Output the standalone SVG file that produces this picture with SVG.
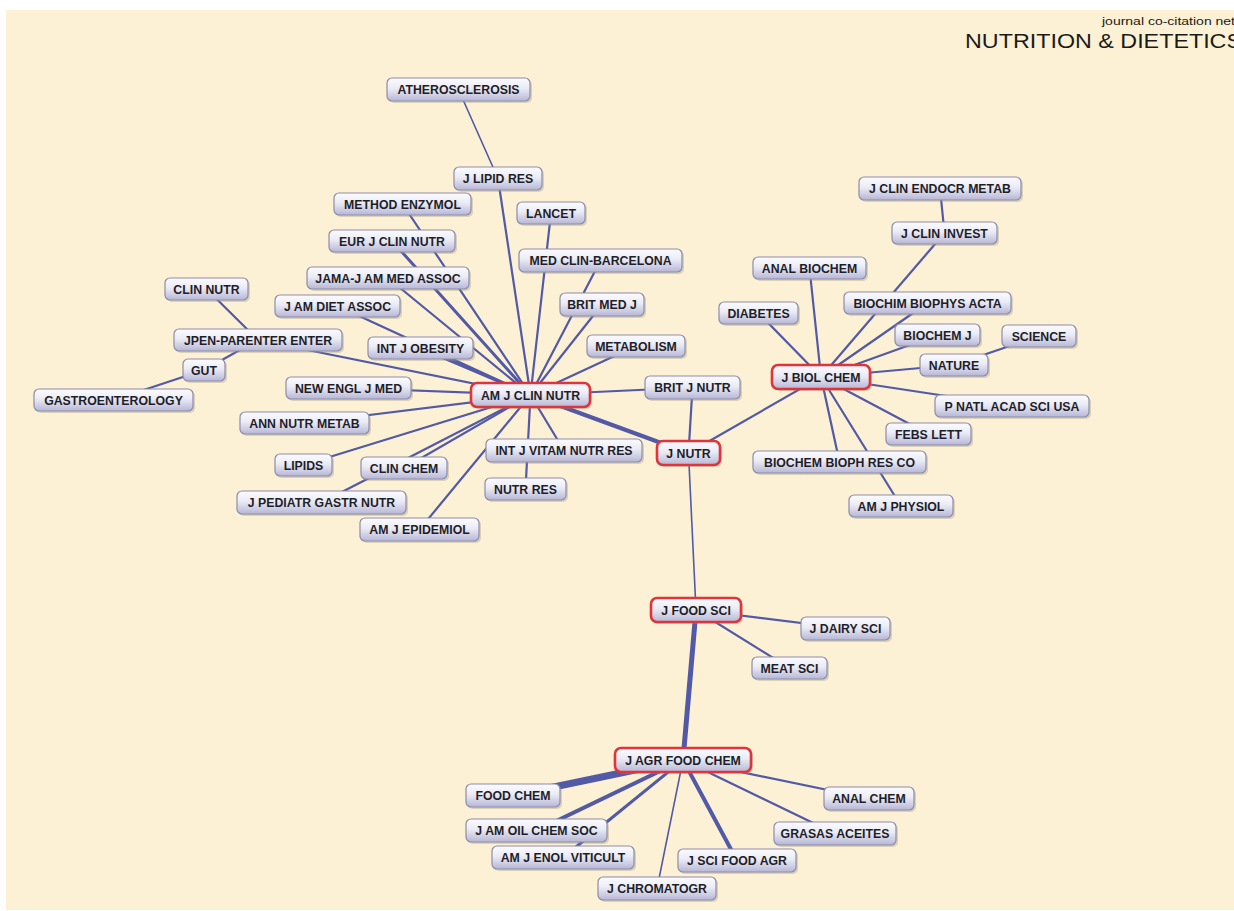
<svg xmlns="http://www.w3.org/2000/svg" width="1234" height="911" viewBox="0 0 1234 911">
<defs>
<linearGradient id="nodeFill" x1="0" y1="0" x2="0" y2="1">
<stop offset="0" stop-color="#fbfbfe"/>
<stop offset="0.45" stop-color="#ebebf5"/>
<stop offset="1" stop-color="#b6b6d6"/>
</linearGradient>
<style>
.n rect.b{fill:url(#nodeFill);stroke:#8c8cab;stroke-width:1.2}
.n rect.s{fill:#9b9480;opacity:0.35}
.r rect.b{stroke:#e0343c;stroke-width:2.6}
.n text{font-family:"Liberation Sans",Arial,sans-serif;font-weight:bold;font-size:12.3px;fill:#1e1e28;text-anchor:middle}
#edges line{stroke:#5259a6;stroke-linecap:round}
.t1{stroke-width:1.6}
.t2{stroke-width:2.2}
.t3{stroke-width:3}
.t4{stroke-width:4}
.t5{stroke-width:5}
.t7{stroke-width:7}
.title{font-family:"Liberation Sans",Arial,sans-serif;fill:#1a1a1a}
</style>
</defs>
<rect x="0" y="0" width="1234" height="911" fill="#ffffff"/>
<rect x="6" y="10" width="1228" height="900" fill="#fcf1d4"/>
<text class="title" x="1102" y="25" font-size="11.5" textLength="133" lengthAdjust="spacingAndGlyphs">journal co-citation net</text>
<text class="title" x="965" y="47.5" font-size="20" textLength="277" lengthAdjust="spacingAndGlyphs">NUTRITION &amp; DIETETICS</text>
<g id="edges">
<line class="t1" x1="458.5" y1="89.5" x2="498" y2="178.5"/>
<line class="t2" x1="498" y1="178.5" x2="530.5" y2="395"/>
<line class="t2" x1="402.5" y1="204" x2="530.5" y2="395"/>
<line class="t2" x1="551" y1="213" x2="530.5" y2="395"/>
<line class="t3" x1="392" y1="241" x2="530.5" y2="395"/>
<line class="t2" x1="600.5" y1="260.5" x2="530.5" y2="395"/>
<line class="t2" x1="388" y1="278" x2="530.5" y2="395"/>
<line class="t2" x1="337.5" y1="306" x2="530.5" y2="395"/>
<line class="t2" x1="602" y1="304.5" x2="530.5" y2="395"/>
<line class="t2" x1="258" y1="340" x2="530.5" y2="395"/>
<line class="t3" x1="420.5" y1="348" x2="530.5" y2="395"/>
<line class="t2" x1="636" y1="346" x2="530.5" y2="395"/>
<line class="t2" x1="348.5" y1="388" x2="530.5" y2="395"/>
<line class="t2" x1="692.5" y1="387.5" x2="530.5" y2="395"/>
<line class="t2" x1="304.5" y1="423" x2="530.5" y2="395"/>
<line class="t2" x1="303.5" y1="465" x2="530.5" y2="395"/>
<line class="t2" x1="404" y1="468" x2="530.5" y2="395"/>
<line class="t2" x1="321.5" y1="502.5" x2="530.5" y2="395"/>
<line class="t2" x1="419.5" y1="529.5" x2="530.5" y2="395"/>
<line class="t2" x1="564" y1="450.5" x2="530.5" y2="395"/>
<line class="t2" x1="525.5" y1="489" x2="530.5" y2="395"/>
<line class="t4" x1="530.5" y1="395" x2="688.5" y2="453"/>
<line class="t2" x1="206.5" y1="289" x2="258" y2="340"/>
<line class="t2" x1="204" y1="370" x2="258" y2="340"/>
<line class="t2" x1="113.5" y1="400" x2="204" y2="370"/>
<line class="t2" x1="940" y1="188.5" x2="944.5" y2="233"/>
<line class="t2" x1="944.5" y1="233" x2="821" y2="377"/>
<line class="t2" x1="809.5" y1="268" x2="821" y2="377"/>
<line class="t2" x1="927.5" y1="303" x2="821" y2="377"/>
<line class="t2" x1="758.5" y1="313" x2="821" y2="377"/>
<line class="t2" x1="937.5" y1="335" x2="821" y2="377"/>
<line class="t2" x1="1039" y1="336" x2="954" y2="365"/>
<line class="t2" x1="954" y1="365" x2="821" y2="377"/>
<line class="t2" x1="1012" y1="406" x2="821" y2="377"/>
<line class="t2" x1="928.5" y1="434" x2="821" y2="377"/>
<line class="t2" x1="839.5" y1="462" x2="821" y2="377"/>
<line class="t2" x1="901" y1="506" x2="821" y2="377"/>
<line class="t2" x1="688.5" y1="453" x2="821" y2="377"/>
<line class="t2" x1="692.5" y1="387.5" x2="688.5" y2="453"/>
<line class="t1" x1="688.5" y1="453" x2="696" y2="610"/>
<line class="t2" x1="696" y1="610" x2="845.5" y2="628.5"/>
<line class="t2" x1="696" y1="610" x2="789.5" y2="668"/>
<line class="t5" x1="696" y1="610" x2="683" y2="760"/>
<line class="t7" x1="683" y1="760" x2="513" y2="795.5"/>
<line class="t4" x1="683" y1="760" x2="536.5" y2="830.5"/>
<line class="t3" x1="683" y1="760" x2="563" y2="857.5"/>
<line class="t1" x1="683" y1="760" x2="657" y2="888.5"/>
<line class="t4" x1="683" y1="760" x2="737" y2="860.5"/>
<line class="t2" x1="683" y1="760" x2="835" y2="833.5"/>
<line class="t2" x1="683" y1="760" x2="869" y2="798.5"/>
</g>
<g id="n-atherosclerosis" class="n"><rect class="s" x="389" y="80" width="143" height="23" rx="5"/><rect class="b" x="387" y="78" width="143" height="23" rx="5"/><text x="458.5" y="94">ATHEROSCLEROSIS</text></g>
<g id="n-j-lipid-res" class="n"><rect class="s" x="456" y="169" width="88" height="23" rx="5"/><rect class="b" x="454" y="167" width="88" height="23" rx="5"/><text x="498" y="183">J LIPID RES</text></g>
<g id="n-method-enzymol" class="n"><rect class="s" x="336" y="195" width="137" height="22" rx="5"/><rect class="b" x="334" y="193" width="137" height="22" rx="5"/><text x="402.5" y="208.5">METHOD ENZYMOL</text></g>
<g id="n-lancet" class="n"><rect class="s" x="519" y="204" width="68" height="22" rx="5"/><rect class="b" x="517" y="202" width="68" height="22" rx="5"/><text x="551" y="217.5">LANCET</text></g>
<g id="n-eur-j-clin-nutr" class="n"><rect class="s" x="331" y="232" width="126" height="22" rx="5"/><rect class="b" x="329" y="230" width="126" height="22" rx="5"/><text x="392" y="245.5">EUR J CLIN NUTR</text></g>
<g id="n-med-clin-barcelona" class="n"><rect class="s" x="521" y="251" width="163" height="23" rx="5"/><rect class="b" x="519" y="249" width="163" height="23" rx="5"/><text x="600.5" y="265">MED CLIN-BARCELONA</text></g>
<g id="n-jama" class="n"><rect class="s" x="309" y="269" width="162" height="22" rx="5"/><rect class="b" x="307" y="267" width="162" height="22" rx="5"/><text x="388" y="282.5">JAMA-J AM MED ASSOC</text></g>
<g id="n-j-am-diet-assoc" class="n"><rect class="s" x="277" y="297" width="125" height="22" rx="5"/><rect class="b" x="275" y="295" width="125" height="22" rx="5"/><text x="337.5" y="310.5">J AM DIET ASSOC</text></g>
<g id="n-brit-med-j" class="n"><rect class="s" x="562" y="295" width="84" height="23" rx="5"/><rect class="b" x="560" y="293" width="84" height="23" rx="5"/><text x="602" y="309">BRIT MED J</text></g>
<g id="n-clin-nutr" class="n"><rect class="s" x="167" y="280" width="83" height="22" rx="5"/><rect class="b" x="165" y="278" width="83" height="22" rx="5"/><text x="206.5" y="293.5">CLIN NUTR</text></g>
<g id="n-jpen" class="n"><rect class="s" x="176" y="331" width="168" height="22" rx="5"/><rect class="b" x="174" y="329" width="168" height="22" rx="5"/><text x="258" y="344.5">JPEN-PARENTER ENTER</text></g>
<g id="n-int-j-obesity" class="n"><rect class="s" x="370" y="339" width="105" height="22" rx="5"/><rect class="b" x="368" y="337" width="105" height="22" rx="5"/><text x="420.5" y="352.5">INT J OBESITY</text></g>
<g id="n-metabolism" class="n"><rect class="s" x="589" y="337" width="98" height="22" rx="5"/><rect class="b" x="587" y="335" width="98" height="22" rx="5"/><text x="636" y="350.5">METABOLISM</text></g>
<g id="n-gut" class="n"><rect class="s" x="185" y="361" width="42" height="22" rx="5"/><rect class="b" x="183" y="359" width="42" height="22" rx="5"/><text x="204" y="374.5">GUT</text></g>
<g id="n-gastroenterology" class="n"><rect class="s" x="36" y="391" width="159" height="22" rx="5"/><rect class="b" x="34" y="389" width="159" height="22" rx="5"/><text x="113.5" y="404.5">GASTROENTEROLOGY</text></g>
<g id="n-new-engl-j-med" class="n"><rect class="s" x="288" y="379" width="125" height="22" rx="5"/><rect class="b" x="286" y="377" width="125" height="22" rx="5"/><text x="348.5" y="392.5">NEW ENGL J MED</text></g>
<g id="n-am-j-clin-nutr" class="n r"><rect class="s" x="473" y="385" width="119" height="24" rx="6"/><rect class="b" x="471" y="383" width="119" height="24" rx="6"/><text x="530.5" y="399.5">AM J CLIN NUTR</text></g>
<g id="n-brit-j-nutr" class="n"><rect class="s" x="647" y="378" width="95" height="23" rx="5"/><rect class="b" x="645" y="376" width="95" height="23" rx="5"/><text x="692.5" y="392">BRIT J NUTR</text></g>
<g id="n-ann-nutr-metab" class="n"><rect class="s" x="242" y="414" width="129" height="22" rx="5"/><rect class="b" x="240" y="412" width="129" height="22" rx="5"/><text x="304.5" y="427.5">ANN NUTR METAB</text></g>
<g id="n-j-nutr" class="n r"><rect class="s" x="659" y="443" width="63" height="24" rx="6"/><rect class="b" x="657" y="441" width="63" height="24" rx="6"/><text x="688.5" y="457.5">J NUTR</text></g>
<g id="n-int-j-vitam-nutr-res" class="n"><rect class="s" x="488" y="441" width="156" height="23" rx="5"/><rect class="b" x="486" y="439" width="156" height="23" rx="5"/><text x="564" y="455">INT J VITAM NUTR RES</text></g>
<g id="n-lipids" class="n"><rect class="s" x="277" y="456" width="57" height="22" rx="5"/><rect class="b" x="275" y="454" width="57" height="22" rx="5"/><text x="303.5" y="469.5">LIPIDS</text></g>
<g id="n-clin-chem" class="n"><rect class="s" x="363" y="459" width="86" height="22" rx="5"/><rect class="b" x="361" y="457" width="86" height="22" rx="5"/><text x="404" y="472.5">CLIN CHEM</text></g>
<g id="n-nutr-res" class="n"><rect class="s" x="487" y="480" width="81" height="22" rx="5"/><rect class="b" x="485" y="478" width="81" height="22" rx="5"/><text x="525.5" y="493.5">NUTR RES</text></g>
<g id="n-j-pediatr-gastr-nutr" class="n"><rect class="s" x="239" y="493" width="169" height="23" rx="5"/><rect class="b" x="237" y="491" width="169" height="23" rx="5"/><text x="321.5" y="507">J PEDIATR GASTR NUTR</text></g>
<g id="n-am-j-epidemiol" class="n"><rect class="s" x="362" y="520" width="119" height="23" rx="5"/><rect class="b" x="360" y="518" width="119" height="23" rx="5"/><text x="419.5" y="534">AM J EPIDEMIOL</text></g>
<g id="n-j-clin-endocr-metab" class="n"><rect class="s" x="861" y="179" width="162" height="23" rx="5"/><rect class="b" x="859" y="177" width="162" height="23" rx="5"/><text x="940" y="193">J CLIN ENDOCR METAB</text></g>
<g id="n-j-clin-invest" class="n"><rect class="s" x="894" y="224" width="105" height="22" rx="5"/><rect class="b" x="892" y="222" width="105" height="22" rx="5"/><text x="944.5" y="237.5">J CLIN INVEST</text></g>
<g id="n-anal-biochem" class="n"><rect class="s" x="755" y="259" width="113" height="22" rx="5"/><rect class="b" x="753" y="257" width="113" height="22" rx="5"/><text x="809.5" y="272.5">ANAL BIOCHEM</text></g>
<g id="n-biochim-biophys-acta" class="n"><rect class="s" x="846" y="294" width="167" height="22" rx="5"/><rect class="b" x="844" y="292" width="167" height="22" rx="5"/><text x="927.5" y="307.5">BIOCHIM BIOPHYS ACTA</text></g>
<g id="n-diabetes" class="n"><rect class="s" x="721" y="304" width="79" height="22" rx="5"/><rect class="b" x="719" y="302" width="79" height="22" rx="5"/><text x="758.5" y="317.5">DIABETES</text></g>
<g id="n-biochem-j" class="n"><rect class="s" x="897" y="326" width="85" height="22" rx="5"/><rect class="b" x="895" y="324" width="85" height="22" rx="5"/><text x="937.5" y="339.5">BIOCHEM J</text></g>
<g id="n-science" class="n"><rect class="s" x="1004" y="327" width="74" height="22" rx="5"/><rect class="b" x="1002" y="325" width="74" height="22" rx="5"/><text x="1039" y="340.5">SCIENCE</text></g>
<g id="n-nature" class="n"><rect class="s" x="922" y="356" width="68" height="22" rx="5"/><rect class="b" x="920" y="354" width="68" height="22" rx="5"/><text x="954" y="369.5">NATURE</text></g>
<g id="n-j-biol-chem" class="n r"><rect class="s" x="774" y="367" width="98" height="24" rx="6"/><rect class="b" x="772" y="365" width="98" height="24" rx="6"/><text x="821" y="381.5">J BIOL CHEM</text></g>
<g id="n-p-natl-acad-sci-usa" class="n"><rect class="s" x="937" y="397" width="154" height="22" rx="5"/><rect class="b" x="935" y="395" width="154" height="22" rx="5"/><text x="1012" y="410.5">P NATL ACAD SCI USA</text></g>
<g id="n-febs-lett" class="n"><rect class="s" x="888" y="425" width="85" height="22" rx="5"/><rect class="b" x="886" y="423" width="85" height="22" rx="5"/><text x="928.5" y="438.5">FEBS LETT</text></g>
<g id="n-biochem-bioph-res-co" class="n"><rect class="s" x="755" y="453" width="173" height="22" rx="5"/><rect class="b" x="753" y="451" width="173" height="22" rx="5"/><text x="839.5" y="466.5">BIOCHEM BIOPH RES CO</text></g>
<g id="n-am-j-physiol" class="n"><rect class="s" x="851" y="497" width="104" height="22" rx="5"/><rect class="b" x="849" y="495" width="104" height="22" rx="5"/><text x="901" y="510.5">AM J PHYSIOL</text></g>
<g id="n-j-food-sci" class="n r"><rect class="s" x="653" y="600" width="90" height="24" rx="6"/><rect class="b" x="651" y="598" width="90" height="24" rx="6"/><text x="696" y="614.5">J FOOD SCI</text></g>
<g id="n-j-dairy-sci" class="n"><rect class="s" x="803" y="619" width="89" height="23" rx="5"/><rect class="b" x="801" y="617" width="89" height="23" rx="5"/><text x="845.5" y="633">J DAIRY SCI</text></g>
<g id="n-meat-sci" class="n"><rect class="s" x="754" y="659" width="75" height="22" rx="5"/><rect class="b" x="752" y="657" width="75" height="22" rx="5"/><text x="789.5" y="672.5">MEAT SCI</text></g>
<g id="n-j-agr-food-chem" class="n r"><rect class="s" x="617" y="750" width="136" height="24" rx="6"/><rect class="b" x="615" y="748" width="136" height="24" rx="6"/><text x="683" y="764.5">J AGR FOOD CHEM</text></g>
<g id="n-food-chem" class="n"><rect class="s" x="468" y="786" width="94" height="23" rx="5"/><rect class="b" x="466" y="784" width="94" height="23" rx="5"/><text x="513" y="800">FOOD CHEM</text></g>
<g id="n-anal-chem" class="n"><rect class="s" x="826" y="789" width="90" height="23" rx="5"/><rect class="b" x="824" y="787" width="90" height="23" rx="5"/><text x="869" y="803">ANAL CHEM</text></g>
<g id="n-j-am-oil-chem-soc" class="n"><rect class="s" x="468" y="821" width="141" height="23" rx="5"/><rect class="b" x="466" y="819" width="141" height="23" rx="5"/><text x="536.5" y="835">J AM OIL CHEM SOC</text></g>
<g id="n-grasas-aceites" class="n"><rect class="s" x="776" y="824" width="122" height="23" rx="5"/><rect class="b" x="774" y="822" width="122" height="23" rx="5"/><text x="835" y="838">GRASAS ACEITES</text></g>
<g id="n-am-j-enol-viticult" class="n"><rect class="s" x="494" y="848" width="142" height="23" rx="5"/><rect class="b" x="492" y="846" width="142" height="23" rx="5"/><text x="563" y="862">AM J ENOL VITICULT</text></g>
<g id="n-j-sci-food-agr" class="n"><rect class="s" x="680" y="851" width="118" height="23" rx="5"/><rect class="b" x="678" y="849" width="118" height="23" rx="5"/><text x="737" y="865">J SCI FOOD AGR</text></g>
<g id="n-j-chromatogr" class="n"><rect class="s" x="600" y="879" width="118" height="23" rx="5"/><rect class="b" x="598" y="877" width="118" height="23" rx="5"/><text x="657" y="893">J CHROMATOGR</text></g>
</svg>
